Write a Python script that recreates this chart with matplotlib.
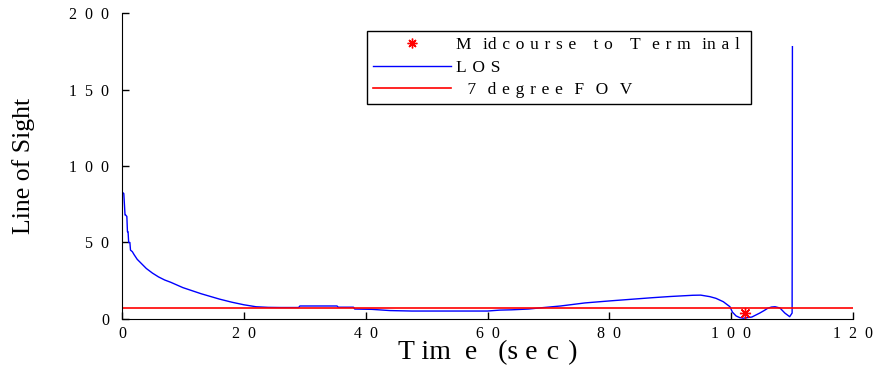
import matplotlib
matplotlib.use("Agg")
import matplotlib.pyplot as plt
from matplotlib.lines import Line2D

# Line-of-sight angle history (deg) versus flight time (sec)
time_s = [0, 0.3, 0.5, 0.6, 0.8, 0.9, 1.0, 1.1, 1.3, 1.4, 1.7, 2.0, 2.5, 3, 4,
          5, 6, 7, 8, 10, 13, 16, 18, 20, 22, 24, 26, 28, 29, 29.2, 32,
          35.3, 35.5, 38, 38.2, 41, 44, 47.6, 50, 55, 60, 62, 64, 66.7, 69,
          72, 76, 80, 84, 87, 90, 93.7, 95, 96.5, 97.5, 98.7, 99.8, 100.2,
          100.8, 101.4, 102, 102.5, 103.4, 104, 104.7, 105.4, 106, 106.6,
          107.2, 108, 108.8, 109.6, 110, 110.05]
los_deg = [83, 82, 68, 68, 67, 57, 57, 50, 50, 45, 44, 42, 39, 37, 33,
           30, 27.5, 25.5, 24, 20.5, 16.5, 13, 11, 9.3, 8.0, 7.6, 7.5,
           7.5, 7.5, 8.5, 8.5, 8.5, 7.7, 7.7, 6.5, 6.3, 5.5, 5.2, 5.2, 5.2,
           5.2, 5.8, 6.0, 6.5, 7.4, 8.5, 10.5, 11.8, 13, 13.9, 14.7, 15.5,
           15.6, 14.6, 13.5, 11.3, 8, 4.5, 2, 0.9, 0.5, 0.8, 1.3, 2.5, 3.9,
           5.5, 7.0, 7.8, 8.0, 7.2, 3.9, 1.5, 3.9, 178]

# Field-of-view limit (deg)
fov_deg = 7.2
fov_range = [0, 120]

# Hand-over from midcourse to terminal guidance
handover_t = [102.3]
handover_los = [4.1]

# Wide letter spacing is built from Unicode spaces
EN = "\u2002"   # en space
T3 = "\u2004"   # three-per-em space

x_ticks = [0, 20, 40, 60, 80, 100, 120]
x_ticklabels = ["0", "2" + EN + "0", "4" + EN + "0", "6" + EN + "0",
                "8" + EN + "0", "1" + EN + "0" + EN + "0",
                "1" + EN + "2" + EN + "0"]
y_ticks = [0, 50, 100, 150, 200]
y_ticklabels = ["0", "5" + EN + "0", "1" + EN + "0" + EN + "0",
                "1" + EN + "5" + EN + "0", "2" + EN + "0" + EN + "0"]

x_label = "T im" + EN + "e" + EN + " (s e" + T3 + "c" + T3 + ")"
y_label = "Line of Sight"

legend_labels = [
    "M" + T3 * 2 + "id" + T3 + T3.join("course") + T3 * 3
    + T3.join("to") + T3 * 3 + "T" + T3 * 2 + T3.join("erm")
    + T3 * 2 + "in" + T3 + "a" + T3 + "l" + T3,
    T3.join("LOS"),
    T3 * 2 + "7" + T3 * 2 + T3.join("degree") + T3 * 2
    + (T3 * 2).join("FOV"),
]

plt.rcParams["font.family"] = ["Liberation Serif", "DejaVu Serif"]

fig = plt.figure(figsize=(8.75, 3.73), dpi=100)
ax = fig.add_axes([0.1394, 0.1448, 0.8355, 0.8203])

ax.plot(time_s, los_deg, color="#0000ff", lw=1.0)
ax.plot(fov_range, [fov_deg, fov_deg], color="#ff0000", lw=1.2)
ax.plot(handover_t, handover_los, linestyle="none", marker=(8, 2, 0),
        markersize=8, markeredgecolor="#ff0000", markeredgewidth=1.0)

ax.set_xlim(0, 120)
ax.set_ylim(0, 200)
ax.set_xticks(x_ticks)
ax.set_xticklabels(x_ticklabels)
ax.set_yticks(y_ticks)
ax.set_yticklabels(y_ticklabels)
ax.tick_params(direction="in", length=5, width=1, labelsize=11.5)
ax.tick_params(axis="y", pad=9)
ax.tick_params(axis="x", pad=5)
ax.spines["top"].set_visible(False)
ax.spines["right"].set_visible(False)
ax.set_xlabel(x_label, fontsize=20, labelpad=-1)
ax.set_ylabel(y_label, fontsize=18.5, labelpad=25)

handles = [
    Line2D([], [], linestyle="none", marker=(8, 2, 0), markersize=7,
           markeredgecolor="#ff0000", markeredgewidth=1.0),
    Line2D([], [], color="#0000ff", lw=1.0),
    Line2D([], [], color="#ff0000", lw=1.2),
]
leg = ax.legend(handles, legend_labels, loc="upper left",
                bbox_to_anchor=(0.335, 0.94), fontsize=12.5, frameon=True,
                fancybox=False, edgecolor="black", framealpha=1,
                handlelength=4.5, handletextpad=0.3, borderpad=0.33,
                borderaxespad=0, labelspacing=0.36)
leg.get_frame().set_linewidth(1.0)

fig.savefig("out.png", dpi=100)
